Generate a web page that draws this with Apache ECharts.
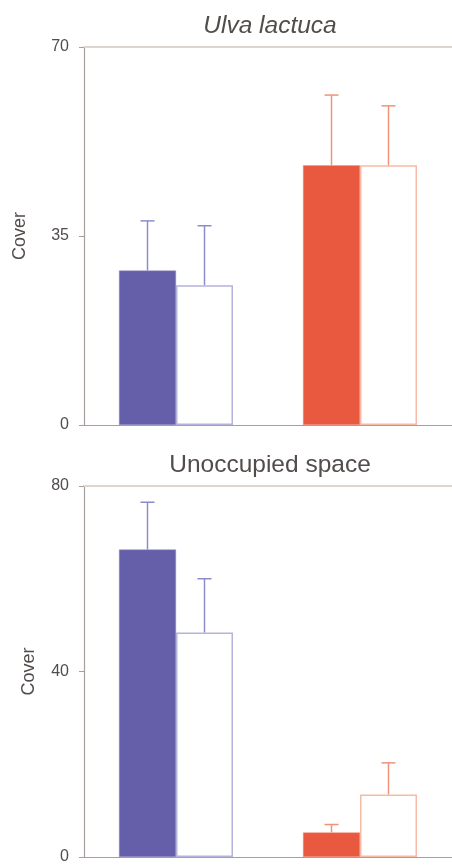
<!DOCTYPE html>
<html>
<head>
<meta charset="utf-8">
<script src="https://cdn.jsdelivr.net/npm/echarts@6/dist/echarts.min.js"></script>
<style>
html,body{margin:0;padding:0;background:#fff;}
#c{width:452px;height:865px;}
</style>
</head>
<body>
<div id="c"></div>
<script>
// ---- data ----
var categories = ['Group 1', 'Group 2'];
var panelTitles = ['Ulva lactuca', 'Unoccupied space'];
var yMax = [70, 80];
var yInterval = [35, 40];

var ulvaFilled = [28.6, 48.1];
var ulvaFilledErr = [9.2, 13.0];
var ulvaOpen = [25.9, 48.1];
var ulvaOpenErr = [11.0, 11.0];

var unoccFilled = [66.3, 5.3];
var unoccFilledErr = [10.2, 1.7];
var unoccOpen = [48.4, 13.5];
var unoccOpenErr = [11.6, 6.8];

// ---- styles ----
var fillColors = ['#655EA8', '#E8593F'];
var openBorder = ['#B4B4DC', '#F6BBA6'];
var errColors = ['#8C8CCC', '#F0937A'];
var axisCol = '#A89F9A';
var topCol = '#DCD5D0';
var textCol = '#524C4B';
var BW = 57;

function filledBar(gi, vals) {
  return {
    type: 'bar', xAxisIndex: gi * 2, yAxisIndex: gi, barWidth: BW, barGap: '0%',
    data: vals.map(function (v, i) {
      return { value: v, itemStyle: { color: fillColors[i], borderColor: errColors[i], borderWidth: 0.5 } };
    }),
    z: 2
  };
}
function openBar(gi, vals) {
  return {
    type: 'bar', xAxisIndex: gi * 2, yAxisIndex: gi, barWidth: BW, barGap: '0%',
    data: vals.map(function (v, i) {
      return { value: v, itemStyle: { color: '#fff', borderColor: openBorder[i], borderWidth: 1.5 } };
    }),
    z: 2
  };
}
function errBars(gi, means, errs, offset) {
  return {
    type: 'custom', xAxisIndex: gi * 2, yAxisIndex: gi,
    encode: { x: 0, y: 1 },
    data: means.map(function (m, i) { return [i, m, errs[i]]; }),
    renderItem: function (params, api) {
      var c = api.coord([api.value(0), api.value(1)]);
      var t = api.coord([api.value(0), api.value(1) + api.value(2)]);
      var x = c[0] + offset;
      var col = errColors[params.dataIndex];
      return {
        type: 'group', children: [
          { type: 'line', shape: { x1: x, y1: c[1], x2: x, y2: t[1] }, style: { stroke: col, lineWidth: 1.5 } },
          { type: 'line', shape: { x1: x - 7, y1: t[1], x2: x + 7, y2: t[1] }, style: { stroke: col, lineWidth: 1.5 } }
        ]
      };
    },
    z: 3
  };
}

var grids = [
  { left: 84, top: 47, width: 376, height: 378 },
  { left: 84, top: 486, width: 376, height: 375.5 }
];

var xAxes = [], yAxes = [];
[0, 1].forEach(function (gi) {
  xAxes.push({
    type: 'category', gridIndex: gi, data: categories, position: 'bottom',
    axisLine: { show: true, lineStyle: { color: axisCol, width: 1.2 } },
    axisTick: { show: false }, axisLabel: { show: false }
  });
  xAxes.push({
    type: 'category', gridIndex: gi, data: categories, position: 'top',
    axisLine: { show: true, lineStyle: { color: topCol, width: 2 } },
    axisTick: { show: false }, axisLabel: { show: false }
  });
  yAxes.push({
    type: 'value', gridIndex: gi, min: 0, max: yMax[gi], interval: yInterval[gi],
    name: 'Cover', nameLocation: 'middle', nameGap: gi === 0 ? 55 : 46,
    nameTextStyle: { fontFamily: 'Liberation Sans', fontSize: 18, color: textCol },
    axisLine: { show: true, lineStyle: { color: axisCol, width: 1.2 } },
    axisTick: { show: true, length: 5, lineStyle: { color: axisCol } },
    axisLabel: { fontFamily: 'Liberation Sans', fontSize: 16, color: textCol, margin: 15 },
    splitLine: { show: false }
  });
});

var option = {
  animation: false,
  title: [
    { text: panelTitles[0], left: 265, top: 9, textAlign: 'center',
      textStyle: { fontFamily: 'Liberation Sans', fontStyle: 'italic', fontWeight: 'normal', fontSize: 24.5, color: textCol } },
    { text: panelTitles[1], left: 265, top: 448, textAlign: 'center',
      textStyle: { fontFamily: 'Liberation Sans', fontWeight: 'normal', fontSize: 24.5, color: textCol } }
  ],
  grid: grids,
  xAxis: xAxes,
  yAxis: yAxes,
  series: [
    filledBar(0, ulvaFilled), openBar(0, ulvaOpen),
    errBars(0, ulvaFilled, ulvaFilledErr, -BW / 2), errBars(0, ulvaOpen, ulvaOpenErr, BW / 2),
    filledBar(1, unoccFilled), openBar(1, unoccOpen),
    errBars(1, unoccFilled, unoccFilledErr, -BW / 2), errBars(1, unoccOpen, unoccOpenErr, BW / 2)
  ]
};
var chart = echarts.init(document.getElementById('c'), null, { renderer: 'canvas' });
chart.setOption(option);
</script>
</body>
</html>
